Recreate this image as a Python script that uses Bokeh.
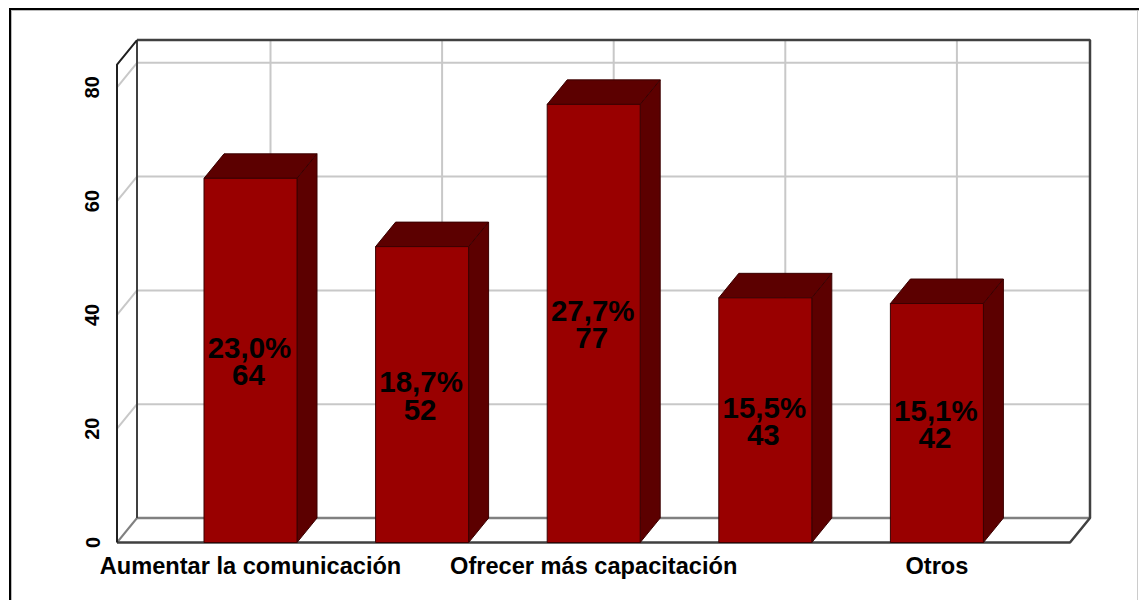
from bokeh.plotting import figure
from bokeh.models import Range1d, FixedTicker, LinearAxis
from bokeh.core.properties import value
from bokeh.embed import file_html
from bokeh.resources import INLINE

categories = ["Aumentar la comunicación", "Mejorar el trabajo", "Ofrecer más capacitación", "Mejorar el ambiente", "Otros"]
counts = [64, 52, 77, 43, 42]
percents = ["23,0%", "18,7%", "27,7%", "15,5%", "15,1%"]
y_ticks = [0, 20, 40, 60, 80]
shown_x_ticks = [0, 2, 4]

# Layout: pixels per unit and where the plot frame falls on the canvas
W, H = 1139, 600
PX_X = 171.6
PX_Y = 5.69
FRAME_L, FRAME_B = 115, 546
ZERO_X, ZERO_Y = 250, 542
DX = 20 / PX_X
DY = 24.5 / PX_Y
BAR_W = 93 / PX_X
WALL_L = (116.5 - ZERO_X) / PX_X
WALL_R = (1069.5 - ZERO_X) / PX_X
WALL_T = 84.0

# Outer page frame painted behind a transparent canvas, open at the bottom
frame_css = ("linear-gradient(#000,#000) 9px 8px/2px 100% no-repeat,"
             "linear-gradient(#000,#000) 9px 8px/100% 2px no-repeat,"
             "linear-gradient(#bbb,#bbb) 11px 10px/1px 100% no-repeat,"
             "linear-gradient(#bbb,#bbb) 11px 10px/100% 1px no-repeat,"
             "linear-gradient(#ccc,#ccc) 1137px 8px/1px 100% no-repeat,"
             "#ffffff")

p = figure(width=W, height=H, output_backend="svg", toolbar_location=None,
           x_range=Range1d((FRAME_L - ZERO_X) / PX_X, (W - ZERO_X) / PX_X),
           y_range=Range1d((ZERO_Y - FRAME_B) / PX_Y, ZERO_Y / PX_Y),
           min_border_left=FRAME_L, min_border_right=0, min_border_top=0,
           min_border_bottom=H - FRAME_B, outline_line_color=None,
           background_fill_color=None, border_fill_color=None,
           x_axis_type=None, y_axis_type=None,
           styles={"background": frame_css})
p.grid.visible = False

# Back wall grid
GRID = "#c8c8c8"
for t in y_ticks[1:]:
    p.line([WALL_L + DX, WALL_R + DX], [t + DY, t + DY], line_color=GRID, line_width=2)
    p.line([WALL_L, WALL_L + DX], [t, t + DY], line_color=GRID, line_width=2)
for i in range(len(categories)):
    p.line([i + DX, i + DX], [DY, WALL_T + DY], line_color=GRID, line_width=2)

# Wall frame
DARK = "#404040"
p.line([WALL_L + DX, WALL_R + DX], [DY, DY], line_color="#808080", line_width=2.5)
p.line([WALL_L, WALL_L + DX], [0, DY], line_color="#808080", line_width=2)
p.line([WALL_L + DX, WALL_R + DX, WALL_R + DX, WALL_R, WALL_L],
       [WALL_T + DY, WALL_T + DY, DY, 0, 0], line_color=DARK, line_width=2.5)
p.line([WALL_L + DX, WALL_L + DX], [DY, WALL_T + DY], line_color=DARK, line_width=2)
p.line([WALL_L + DX, WALL_L, WALL_L], [WALL_T + DY, WALL_T, 0], line_color="#202020", line_width=2)

# Bars
TOP_C, FRONT_C, EDGE = "#5c0000", "#990000", "#3a0000"
for i, v in enumerate(counts):
    l, r = i - BAR_W / 2, i + BAR_W / 2
    p.patch([l, r, r + DX, l + DX], [v, v, v + DY, v + DY],
            fill_color=TOP_C, line_color=EDGE, line_width=1)
    p.patch([r, r + DX, r + DX, r], [0, DY, v + DY, v],
            fill_color=TOP_C, line_color=EDGE, line_width=1)
xs = list(range(len(counts)))
p.vbar(x=xs, top=counts, bottom=0, width=BAR_W, fill_color=FRONT_C, line_color=EDGE, line_width=1)

mid = [v / 2 for v in counts]
font = value("Liberation Sans")
p.text(xs, mid, text=percents, text_align="center", text_baseline="middle", x_offset=-1, y_offset=-13,
       text_font=font, text_font_size="29.5px", text_color="#000000", text_font_style="bold")
p.text(xs, mid, text=[str(c) for c in counts], text_align="center", text_baseline="middle", x_offset=-2, y_offset=15,
       text_font=font, text_font_size="29.5px", text_color="#000000", text_font_style="bold")

# Real axes
ya = LinearAxis(ticker=FixedTicker(ticks=y_ticks), axis_line_color=None,
                major_tick_line_color=None, minor_tick_line_color=None,
                major_label_orientation="parallel", major_label_standoff=10,
                major_label_text_font="Liberation Sans", major_label_text_font_size="20px",
                major_label_text_font_style="bold", major_label_text_color="#000000")
p.add_layout(ya, "left")
xa = LinearAxis(ticker=FixedTicker(ticks=shown_x_ticks), axis_line_color=None,
                major_tick_line_color=None, minor_tick_line_color=None,
                major_label_overrides={i: categories[i] for i in shown_x_ticks},
                major_label_standoff=0, major_label_text_font="Liberation Sans",
                major_label_text_font_size="23.6px", major_label_text_font_style="bold",
                major_label_text_color="#000000")
p.add_layout(xa, "below")

open("out.html", "w").write(file_html(p, INLINE))
